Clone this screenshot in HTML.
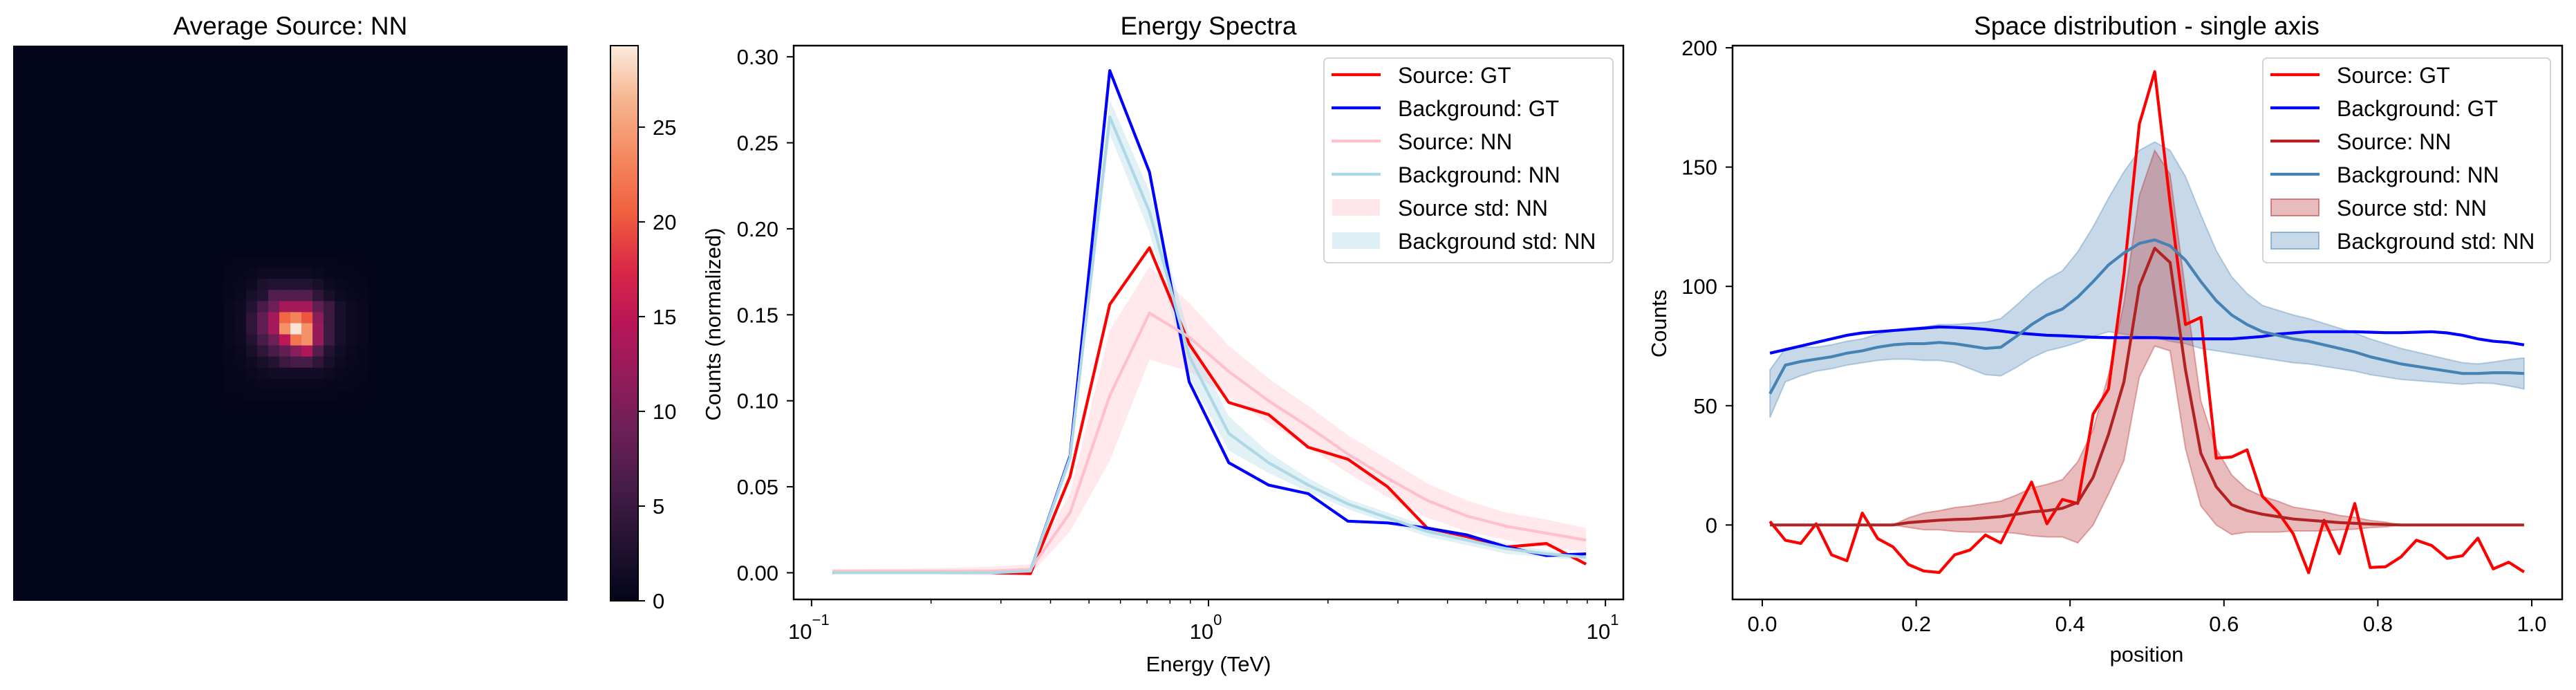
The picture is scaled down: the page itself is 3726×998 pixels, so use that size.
<!DOCTYPE html>
<html><head><meta charset="utf-8"><style>
html,body{margin:0;padding:0;background:#fff;}
svg{display:block;font-family:"Liberation Sans",Arial,sans-serif;}
</style></head><body>
<svg id="fig" width="3726" height="998" viewBox="0 0 3726 998" xmlns="http://www.w3.org/2000/svg">
<g id="p1"></g>
<g id="p2"></g>
<g id="p3"></g>
</svg>
<script>
// ---------- Heatmap data (rows 19..31, cols 19..31 of a 50x50 grid) ----------
const heatOffset = 19;
const heatRows = [
[0.2,0.3,0.3,0.3,0.3,0.3,0.3,0.3,0.3,0.3,0.2,0.2,0.2],
[0.3,0.4,0.6,1,1,1,1,1,0.8,0.5,0.3,0.3,0.2],
[0.4,0.6,1,2.5,3,3,3,3,2,1,0.6,0.4,0.3],
[0.5,0.8,2,3,7,7,7,7,4,2,1,0.6,0.4],
[0.6,1,3,6,9,13,13,13,8,5,2,1,0.6],
[0.6,1.2,4,8,13,21,23,20,11,5,2,1,0.6],
[0.6,1.2,4,8,13,24,29,24,12,5,2,1,0.6],
[0.6,1,3,6,9,15,22,24,12,5,2,1,0.6],
[0.5,0.8,2,4,6,8,11,14,7,3,1.5,0.8,0.5],
[0.4,0.6,1.2,2,3,5,6,6,4,2,1,0.6,0.4],
[0.3,0.5,0.8,1.2,1.5,1.5,1.5,1.5,1.5,1,0.6,0.4,0.3],
[0.3,0.3,0.5,0.6,0.7,0.7,0.7,0.7,0.7,0.5,0.4,0.3,0.2],
[0.2,0.2,0.3,0.3,0.3,0.3,0.3,0.3,0.3,0.3,0.2,0.2,0.2]
];
const cbTicks = [0,5,10,15,20,25];

// ---------- Energy spectra data ----------
const energies = [0.113,0.142,0.178,0.225,0.283,0.356,0.448,0.564,0.710,0.894,1.125,1.417,1.783,2.245,2.826,3.558,4.479,5.639,7.099,8.937];
const srcGT = [0,0,0,0,0,-0.0005,0.056,0.156,0.189,0.133,0.099,0.092,0.073,0.066,0.050,0.026,0.021,0.015,0.017,0.005];
const bkgGT = [0,0,0,0,0,0.001,0.068,0.292,0.233,0.111,0.064,0.051,0.046,0.030,0.029,0.026,0.022,0.015,0.010,0.011];
const srcNN = [0.001,0.001,0.001,0.001,0.001,0.002,0.035,0.103,0.151,0.137,0.117,0.100,0.085,0.069,0.055,0.042,0.033,0.027,0.023,0.019];
const srcNNstd = [0.001,0.0012,0.0015,0.002,0.0025,0.003,0.011,0.038,0.027,0.02,0.015,0.013,0.012,0.011,0.011,0.01,0.009,0.008,0.008,0.007];
const bkgNN = [0,0,0,0,0,0.001,0.067,0.265,0.210,0.126,0.081,0.064,0.051,0.040,0.032,0.024,0.019,0.014,0.011,0.009];
const bkgNNstd = [0.0005,0.0005,0.0005,0.0005,0.0005,0.001,0.004,0.01,0.012,0.012,0.01,0.006,0.004,0.003,0.003,0.003,0.003,0.003,0.002,0.002];
const eYTicks = [0,0.05,0.10,0.15,0.20,0.25,0.30];
const eYTickLabels = ["0.00","0.05","0.10","0.15","0.20","0.25","0.30"];
const eXDecades = [-1,0,1];

// ---------- Space distribution data ----------
const positions = [0.01,0.03,0.05,0.07,0.09,0.11,0.13,0.15,0.17,0.19,0.21,0.23,0.25,0.27,0.29,0.31,0.33,0.35,0.37,0.39,0.41,0.43,0.45,0.47,0.49,0.51,0.53,0.55,0.57,0.59,0.61,0.63,0.65,0.67,0.69,0.71,0.73,0.75,0.77,0.79,0.81,0.83,0.85,0.87,0.89,0.91,0.93,0.95,0.97,0.99];
const sSrcGT = [1.5,-6.4,-7.7,0.5,-12.5,-15,5,-5.7,-9.2,-16.6,-19.3,-19.9,-12.5,-10.5,-4.2,-7.5,5.5,18,0.5,10.7,9,46.5,57,105,168,190,135,84,87,28,28.5,31.5,12,5.5,-3.7,-20,2,-12,9,-17.8,-17.5,-13.4,-6.4,-8.6,-14,-12.9,-5.5,-18.4,-15.6,-19.7];
const sBkgGT = [72,73.5,75,76.5,78,79.5,80.5,81,81.5,82,82.5,83,82.8,82.5,82,81.3,80.5,80,79.5,79.3,79,78.7,78.5,78.5,78.5,78.5,78.3,78,78,78,78,78.5,79,80,80.5,81,81,81,81,80.8,80.6,80.6,80.8,81,80.5,79.5,78,77,76.5,75.5];
const sSrcNN = [0,0,0,0,0,0,0,0,0,1,1.5,2,2.3,2.5,3,3.5,4.5,5.5,6,7,9.5,20,38,60,100,116,110,65,30,16,8.5,6,4.5,3.5,2.5,2,1.5,1,0.7,0.4,0.2,0,0,0,0,0,0,0,0,0];
const sSrcNNstd = [0,0,0,0,0,0,0,0,0,2,3.5,4,5,5.5,6,6.5,8,10,11,12,17,20,25,33,38,41,37,33,22,16,12.5,9,7.5,6.5,5,4.5,4,3,2.5,1.5,1,0,0,0,0,0,0,0,0,0];
const sBkgNN = [55,67,68.5,69.5,70.5,72,73,74.5,75.5,76,76,76.5,76,75,74,74.5,79,84,88,90.5,95.5,102,109,114,118,119.5,117,111,102,94,88,84,81,79.5,78,77,75.5,74,72.5,70.5,69,67.5,66.5,65.5,64.5,63.5,63.5,63.8,63.8,63.5];
const sBkgNNstd = [10,7,6,5,5,5,5,5.5,6,6.5,7,7.5,8,9.5,11,12,13,14,15,16,19,23,28,34,39,41,40,35,28,21,16,13,11,10.5,10,9.5,9,8.5,8,7.5,7,6.5,6,5.5,5,4.5,4,4.5,5.5,6.5];
const sYTicks = [0,50,100,150,200];
const sXTicks = [0,0.2,0.4,0.6,0.8,1.0];
const sXTickLabels = ["0.0","0.2","0.4","0.6","0.8","1.0"];

const NS = "http://www.w3.org/2000/svg";
function mk(parent, tag, attrs, text){
  const e = document.createElementNS(NS, tag);
  for (const k in attrs) e.setAttribute(k, attrs[k]);
  if (text !== undefined) e.textContent = text;
  parent.appendChild(e);
  return e;
}

// rocket colormap
const rocket = [[0,[3,5,26]],[0.1,[34,19,49]],[0.2,[69,28,71]],[0.3,[106,31,86]],[0.4,[146,28,91]],[0.5,[185,22,87]],[0.6,[219,41,70]],[0.7,[240,96,63]],[0.8,[244,137,95]],[0.9,[246,180,142]],[1,[250,235,221]]];
function rocketColor(t){
  t=Math.max(0,Math.min(1,t));
  for(let i=1;i<rocket.length;i++){
    if(t<=rocket[i][0]){
      const a=rocket[i-1],b=rocket[i],f=(t-a[0])/(b[0]-a[0]);
      const c=a[1].map((v,j)=>Math.round(v+(b[1][j]-v)*f));
      return `rgb(${c[0]},${c[1]},${c[2]})`;
    }
  }
  return "rgb(250,235,221)";
}

// ================= Panel 1 =================
(function(){
  const g = document.getElementById('p1');
  const x0=19,y0=66,W=802,H=803,N=50,vmax=29.3;
  const cw=W/N,ch=H/N;
  const bg = mk(g,'rect',{x:x0,y:y0,width:W,height:H,fill:rocketColor(0)});
  
  
  heatRows.forEach((row,j)=>{
    row.forEach((v,i)=>{
      const r = mk(g,'rect',{x:(x0+(heatOffset+i)*cw).toFixed(2),y:(y0+(heatOffset+j)*ch).toFixed(2),width:(cw+0.6).toFixed(2),height:(ch+0.6).toFixed(2),fill:rocketColor(v/vmax)});
      
      
    });
  });
  const t = mk(g,'text',{x:420,y:50,'font-size':37,'text-anchor':'middle'},'Average Source: NN');
  
  
  // colorbar
  const cx0=883,cx1=923,cy0=66,cy1=869;
  const defs = mk(g,'defs',{});
  const lg = mk(defs,'linearGradient',{id:'cbgrad',x1:0,y1:1,x2:0,y2:0});
  rocket.forEach(s=>mk(lg,'stop',{offset:s[0],'stop-color':`rgb(${s[1].join(',')})`}));
  const cb = mk(g,'rect',{x:cx0,y:cy0,width:cx1-cx0,height:cy1-cy0,fill:'url(#cbgrad)',stroke:'#000','stroke-width':2});
  
  
  cbTicks.forEach(v=>{
    const y = cy1 - v/vmax*(cy1-cy0);
    mk(g,'line',{x1:cx1,x2:cx1+10,y1:y,y2:y,stroke:'#000','stroke-width':2});
    const l = mk(g,'text',{x:cx1+21,y:y+11,'font-size':31},String(v));
    
    
  });
})();

// legend helper
function legend(g, x, y, w, entries){
  const box = mk(g,'rect',{x:x,y:y,width:w,height:296,rx:6,fill:'#fff','fill-opacity':0.8,stroke:'#d4d4d4','stroke-width':2});
  
  
  entries.forEach((e,i)=>{
    const cy = y+24+i*48;
    if(e.type==='line'){
      mk(g,'line',{x1:x+11,x2:x+82,y1:cy,y2:cy,stroke:e.color,'stroke-width':4.2});
    } else {
      mk(g,'rect',{x:x+12,y:cy-12,width:69,height:24,fill:e.color,'fill-opacity':e.alpha,stroke:e.edge||'none','stroke-opacity':0.5,'stroke-width':2});
    }
    const t = mk(g,'text',{x:x+107,y:cy+12,'font-size':32},e.label);
    
    
  });
}
function pathFrom(xs, ys){ return xs.map((x,i)=>(i?'L':'M')+x.toFixed(2)+','+ys[i].toFixed(2)).join(''); }
function bandFrom(xs, lo, hi){
  let d = xs.map((x,i)=>(i?'L':'M')+x.toFixed(2)+','+hi[i].toFixed(2)).join('');
  for(let i=xs.length-1;i>=0;i--) d+='L'+xs[i].toFixed(2)+','+lo[i].toFixed(2);
  return d+'Z';
}

// ================= Panel 2 =================
(function(){
  const g = document.getElementById('p2');
  const L=1148,R=2348,T=66,B=867;
  const lmin=-1.045,lmax=1.045,ymin=-0.0155,ymax=0.3065;
  const X = e => L + (Math.log10(e)-lmin)/(lmax-lmin)*(R-L);
  const Y = v => B - (v-ymin)/(ymax-ymin)*(B-T);
  const xs = energies.map(X);
  const b1 = mk(g,'path',{d:bandFrom(xs,srcNN.map((v,i)=>Y(v-srcNNstd[i])),srcNN.map((v,i)=>Y(v+srcNNstd[i]))),fill:'#ffc0cb','fill-opacity':0.35,stroke:'none'});
  
  
  const b2 = mk(g,'path',{d:bandFrom(xs,bkgNN.map((v,i)=>Y(v-bkgNNstd[i])),bkgNN.map((v,i)=>Y(v+bkgNNstd[i]))),fill:'#add8e6','fill-opacity':0.35,stroke:'none'});
  
  
  const series = [[srcGT,'#ff0000','source-gt-line'],[bkgGT,'#0000ff','background-gt-line'],[srcNN,'#ffc0cb','source-nn-line'],[bkgNN,'#add8e6','background-nn-line']];
  series.forEach(s=>{
    const p = mk(g,'path',{d:pathFrom(xs,s[0].map(Y)),fill:'none',stroke:s[1],'stroke-width':4.2,'stroke-linejoin':'round'});
    
    
  });
  const frame = mk(g,'rect',{x:L,y:T,width:R-L,height:B-T,fill:'none',stroke:'#000','stroke-width':2.5});
  
  
  eYTicks.forEach((v,i)=>{
    const y=Y(v);
    mk(g,'line',{x1:L-10,x2:L,y1:y,y2:y,stroke:'#000','stroke-width':2});
    const t = mk(g,'text',{x:L-22,y:y+11,'font-size':31,'text-anchor':'end'},eYTickLabels[i]);
    
    
  });
  eXDecades.forEach(d=>{
    const x=X(Math.pow(10,d));
    mk(g,'line',{x1:x,x2:x,y1:B,y2:B+10,stroke:'#000','stroke-width':2});
    const t = mk(g,'text',{x:x-4,y:B+57,'font-size':31,'text-anchor':'middle'});
    
    
    t.appendChild(document.createTextNode('10'));
    const s = mk(t,'tspan',{dy:-20,'font-size':22},d<0?'\u2212'+Math.abs(d):String(d));
  });
  for(let d=-2;d<=1;d++){
    for(let m=2;m<=9;m++){
      const e=m*Math.pow(10,d);
      const lx=Math.log10(e);
      if(lx<lmin||lx>lmax) continue;
      const x=X(e);
      mk(g,'line',{x1:x,x2:x,y1:B,y2:B+6,stroke:'#000','stroke-width':1.5});
    }
  }
  const ttl = mk(g,'text',{x:1748,y:50,'font-size':37,'text-anchor':'middle'},'Energy Spectra');
  
  
  const xl = mk(g,'text',{x:1748,y:971,'font-size':31,'text-anchor':'middle'},'Energy (TeV)');
  
  
  const yl = mk(g,'text',{x:0,y:0,'font-size':31,'text-anchor':'middle',transform:'translate(1042,469) rotate(-90)'},'Counts (normalized)');
  
  
  legend(g,1915,84,418,[
    {type:'line',color:'#ff0000',label:'Source: GT'},
    {type:'line',color:'#0000ff',label:'Background: GT'},
    {type:'line',color:'#ffc0cb',label:'Source: NN'},
    {type:'line',color:'#add8e6',label:'Background: NN'},
    {type:'rect',color:'#ffc0cb',alpha:0.4,label:'Source std: NN'},
    {type:'rect',color:'#add8e6',alpha:0.4,label:'Background std: NN'}
  ]);
})();

// ================= Panel 3 =================
(function(){
  const g = document.getElementById('p3');
  const L=2506,R=3706,T=66,B=867;
  const xmin=(L-2549)/1113,xmax=(R-2549)/1113;
  const ymin=-31.2,ymax=200.9;
  const X = p => L + (p-xmin)/(xmax-xmin)*(R-L);
  const Y = v => B - (v-ymin)/(ymax-ymin)*(B-T);
  const xs = positions.map(X);
  const b2 = mk(g,'path',{d:bandFrom(xs,sBkgNN.map((v,i)=>Y(v-sBkgNNstd[i])),sBkgNN.map((v,i)=>Y(v+sBkgNNstd[i]))),fill:'#4682b4','fill-opacity':0.3,stroke:'#4682b4','stroke-opacity':0.35,'stroke-width':2});
  
  
  const b1 = mk(g,'path',{d:bandFrom(xs,sSrcNN.map((v,i)=>Y(v-sSrcNNstd[i])),sSrcNN.map((v,i)=>Y(v+sSrcNNstd[i]))),fill:'#b22222','fill-opacity':0.3,stroke:'#b22222','stroke-opacity':0.35,'stroke-width':2});
  
  
  const series = [[sSrcGT,'#ff0000','source-gt-line'],[sBkgGT,'#0000ff','background-gt-line'],[sSrcNN,'#b22222','source-nn-line'],[sBkgNN,'#4682b4','background-nn-line']];
  series.forEach(s=>{
    const p = mk(g,'path',{d:pathFrom(xs,s[0].map(Y)),fill:'none',stroke:s[1],'stroke-width':4.2,'stroke-linejoin':'round'});
    
    
  });
  const frame = mk(g,'rect',{x:L,y:T,width:R-L,height:B-T,fill:'none',stroke:'#000','stroke-width':2.5});
  
  
  sYTicks.forEach(v=>{
    const y=Y(v);
    mk(g,'line',{x1:L-10,x2:L,y1:y,y2:y,stroke:'#000','stroke-width':2});
    const t = mk(g,'text',{x:L-22,y:y+11,'font-size':31,'text-anchor':'end'},String(v));
    
    
  });
  sXTicks.forEach((p,i)=>{
    const x=X(p);
    mk(g,'line',{x1:x,x2:x,y1:B,y2:B+10,stroke:'#000','stroke-width':2});
    const t = mk(g,'text',{x:x,y:B+46,'font-size':31,'text-anchor':'middle'},sXTickLabels[i]);
    
    
  });
  const ttl = mk(g,'text',{x:3105,y:50,'font-size':37,'text-anchor':'middle'},'Space distribution - single axis');
  
  
  const xl = mk(g,'text',{x:3105,y:957,'font-size':31,'text-anchor':'middle'},'position');
  
  
  const yl = mk(g,'text',{x:0,y:0,'font-size':31,'text-anchor':'middle',transform:'translate(2410,468) rotate(-90)'},'Counts');
  
  
  legend(g,3273,84,416,[
    {type:'line',color:'#ff0000',label:'Source: GT'},
    {type:'line',color:'#0000ff',label:'Background: GT'},
    {type:'line',color:'#b22222',label:'Source: NN'},
    {type:'line',color:'#4682b4',label:'Background: NN'},
    {type:'rect',color:'#b22222',alpha:0.3,edge:'#b22222',label:'Source std: NN'},
    {type:'rect',color:'#4682b4',alpha:0.3,edge:'#4682b4',label:'Background std: NN'}
  ]);
})();
</script>
</body></html>
